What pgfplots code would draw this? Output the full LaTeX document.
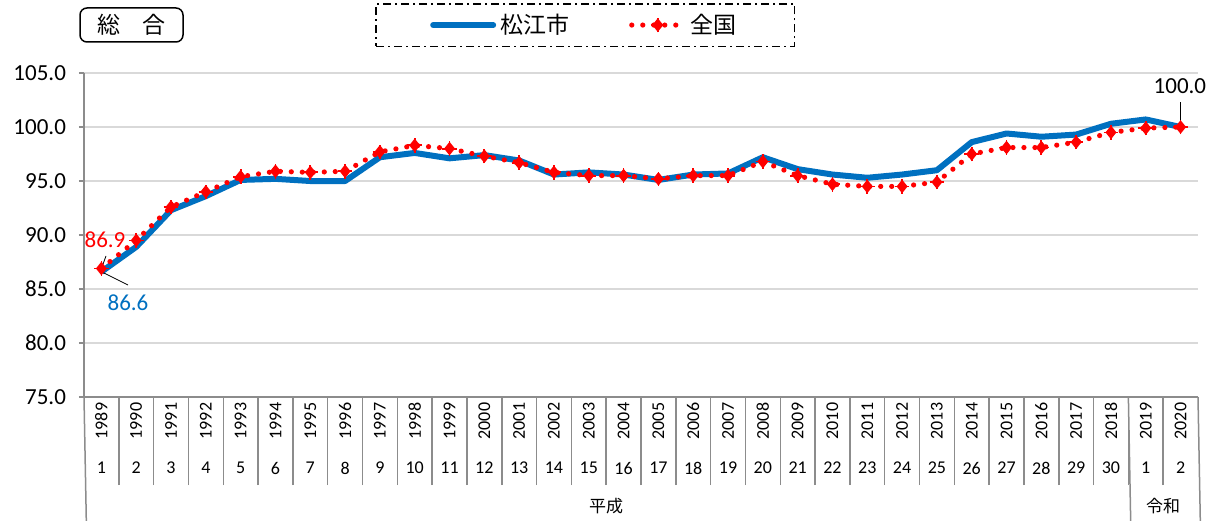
\documentclass[border=0pt]{standalone}
\usepackage{fontspec}
\setmainfont{Carlito}
\newfontfamily\cjk{Noto Sans CJK JP}
\usepackage{graphicx}
\usepackage{pgfplots}
\pgfplotsset{compat=1.18}
\definecolor{mblue}{HTML}{0070C0}
\definecolor{gridc}{HTML}{D9D9D9}
\definecolor{axc}{HTML}{8C8C8C}
\pgfdeclareplotmark{jp}{%
  \pgfpathmoveto{\pgfqpoint{0pt}{\pgfplotmarksize}}%
  \pgfpathlineto{\pgfqpoint{0.8\pgfplotmarksize}{0pt}}%
  \pgfpathlineto{\pgfqpoint{0pt}{-\pgfplotmarksize}}%
  \pgfpathlineto{\pgfqpoint{-0.8\pgfplotmarksize}{0pt}}%
  \pgfpathclose
  \pgfusepathqfillstroke
  \pgfpathmoveto{\pgfqpoint{-1.35\pgfplotmarksize}{0pt}}%
  \pgfpathlineto{\pgfqpoint{1.35\pgfplotmarksize}{0pt}}%
  \pgfpathmoveto{\pgfqpoint{0pt}{-1.35\pgfplotmarksize}}%
  \pgfpathlineto{\pgfqpoint{0pt}{1.35\pgfplotmarksize}}%
  \pgfusepathqstroke
}
\pgfplotsset{
  blueleg/.style={legend image code/.code={\draw[##1, line cap=round] (0pt,0pt) -- (30pt,0pt);}},
  redleg/.style={legend image code/.code={\draw[mark repeat=2, mark phase=2, ##1] plot coordinates {(0pt,0pt) (13pt,0pt) (26pt,0pt)};}},
}
\newcommand\R[1]{\rotatebox{90}{#1}}
\pgfplotstableread{
x matsue zenkoku
0  86.6  86.9
1  88.9  89.5
2  92.3  92.6
3  93.6  94.0
4  95.1  95.4
5  95.2  95.9
6  95.0  95.8
7  95.0  95.9
8  97.2  97.7
9  97.6  98.3
10 97.1  98.0
11 97.4  97.3
12 96.9  96.7
13 95.6  95.8
14 95.8  95.5
15 95.6  95.5
16 95.1  95.2
17 95.6  95.5
18 95.7  95.5
19 97.2  96.8
20 96.1  95.5
21 95.6  94.7
22 95.3  94.5
23 95.6  94.5
24 96.0  94.9
25 98.6  97.5
26 99.4  98.1
27 99.1  98.1
28 99.3  98.6
29 100.3 99.5
30 100.7 99.9
31 100.0 100.0
}\cpi
\begin{document}
\begin{tikzpicture}
\path[use as bounding box] (0,0) rectangle (608pt,260pt);
\begin{axis}[
  at={(42pt,61.5pt)}, anchor=south west,
  scale only axis, width=557pt, height=162pt,
  xmin=-0.5, xmax=31.5, ymin=75, ymax=105,
  clip=false,
  axis x line*=bottom, axis y line*=left,
  axis line style={axc, line width=0.75pt},
  ytick={75,80,...,105},
  ymajorgrids, grid style={gridc, line width=0.6pt},
  yticklabel style={font=\fontsize{11.5}{12}\selectfont, xshift=-3pt, /pgf/number format/.cd, fixed, fixed zerofill, precision=1, assume math mode=true},
  ytick style={axc, line width=0.75pt},
  tick align=outside,
  major tick length=2.5pt,
  xtick={0,...,31},
  xticklabels={\R{1989},\R{1990},\R{1991},\R{1992},\R{1993},\R{1994},\R{1995},\R{1996},\R{1997},\R{1998},\R{1999},\R{2000},\R{2001},\R{2002},\R{2003},\R{2004},\R{2005},\R{2006},\R{2007},\R{2008},\R{2009},\R{2010},\R{2011},\R{2012},\R{2013},\R{2014},\R{2015},\R{2016},\R{2017},\R{2018},\R{2019},\R{2020}},
  xticklabel style={font=\fontsize{9}{10}\selectfont, anchor=center, yshift=-9.5pt, inner sep=0pt},
  x tick style={draw=none},
  minor x tick num=1,
  minor x tick style={draw=axc, line width=0.75pt},
  minor tick length=44pt,
  extra x ticks={0,...,31},
  extra x tick labels={1,2,3,4,5,6,7,8,9,10,11,12,13,14,15,16,17,18,19,20,21,22,23,24,25,26,27,28,29,30,1,2},
  extra x tick style={major tick length=0pt, xticklabel style={font=\fontsize{9}{10}\selectfont, yshift=-26pt}},
  legend style={at={(0.450,1.148)}, anchor=center, draw=black, line width=0.75pt,
    dash pattern=on 4pt off 2pt on 1pt off 2pt,
    inner xsep=27pt, inner ysep=3pt,
    font=\cjk\fontsize{11.5}{12}\selectfont,
    legend columns=2,
    /tikz/every even column/.append style={column sep=28pt}},
]
\addplot[mblue, line width=3pt, line join=round, blueleg]
  table[x=x, y=matsue] {\cpi};
\addlegendentry{松江市}
\addplot[red, line width=2.6pt, line cap=round, dash pattern=on 0pt off 5.5pt,
  mark=jp, mark size=2.7pt, mark options={solid, fill=red, draw=red, line width=0.9pt, line cap=butt}, redleg]
  table[x=x, y=zenkoku] {\cpi};
\addlegendentry{全国}
% era separators
\draw[axc, line width=0.75pt] (axis cs:-0.5,75) -- ++(0,-61.5pt);
\draw[axc, line width=0.75pt] (axis cs:29.5,75) -- ++(0,-61.5pt);
\draw[axc, line width=0.75pt] (axis cs:31.5,75) -- ++(0,-61.5pt);
\node[font=\cjk\fontsize{8.5}{9}\selectfont] at ([yshift=-54.5pt]axis cs:14.5,75) {平成};
\node[font=\cjk\fontsize{8.5}{9}\selectfont] at ([yshift=-54.5pt]axis cs:30.5,75) {令和};
% data labels
\draw[black, line width=0.4pt] (axis cs:0.132,88.06) -- (axis cs:0.017,87.04);
\node[red, font=\fontsize{11.5}{12}\selectfont] at (axis cs:0.103,89.54) {86.9};
\draw[black, line width=0.4pt] (axis cs:0.764,85.37) -- (axis cs:0.017,86.57);
\node[mblue, font=\fontsize{11.5}{12}\selectfont] at (axis cs:0.764,83.70) {86.6};
\draw[black, line width=0.4pt] (axis cs:31.0,102.31) -- (axis cs:31.0,100.1);
\node[black, font=\fontsize{11.5}{12}\selectfont] at (axis cs:30.98,103.8) {100.0};
\end{axis}
\node[draw=black, line width=0.75pt, rounded corners=3.5pt, minimum width=51.5pt, minimum height=17pt, inner sep=0pt, font=\cjk\fontsize{11.5}{12}\selectfont] at (65.75pt,247.5pt) {総　合};
\end{tikzpicture}
\end{document}
